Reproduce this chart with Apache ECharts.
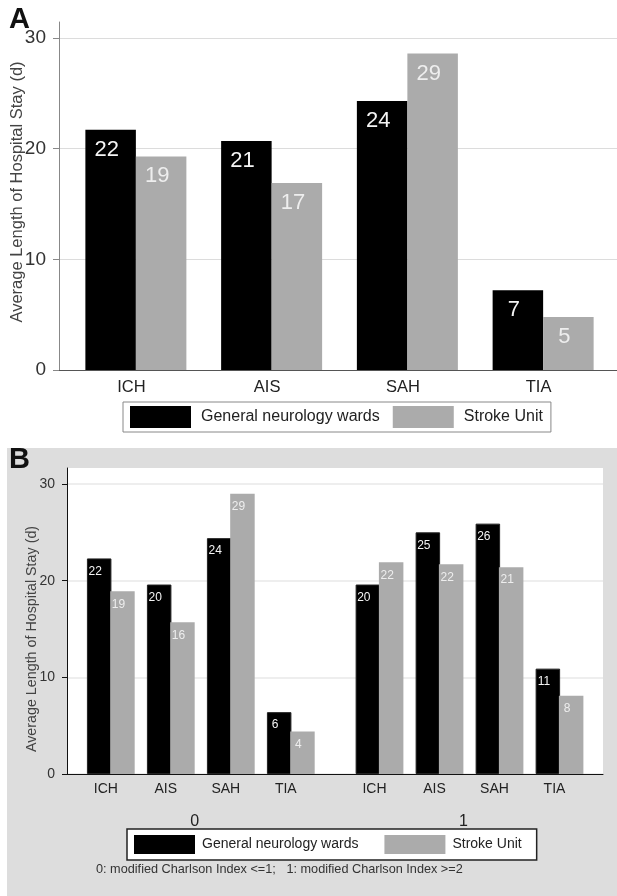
<!DOCTYPE html>
<html><head><meta charset="utf-8">
<script src="https://cdn.jsdelivr.net/npm/echarts@6/dist/echarts.min.js"></script>
<style>html,body{margin:0;padding:0;background:#fff}#c{width:617px;height:896px}</style>
</head><body><div id="c"></div>
<script>
// ---- data ----
const categories = ['ICH', 'AIS', 'SAH', 'TIA'];
const seriesNames = ['General neurology wards', 'Stroke Unit'];
// Panel A
const wardsA  = [21.7, 20.7, 24.3, 7.2];
const strokeA = [19.3, 16.9, 28.6, 4.8];
// Panel B, group 0 (Charlson <=1) and group 1 (Charlson >=2)
const groupsB   = ['0', '1'];
const wardsB0   = [22.3, 19.6, 24.4, 6.4];
const strokeB0  = [18.9, 15.7, 29.0, 4.4];
const wardsB1   = [19.6, 25.0, 25.9, 10.9];
const strokeB1  = [21.9, 21.7, 21.4, 8.1];
const yMin = 0, yMax = 30, yStep = 10;
const axisTitle = 'Average Length of Hospital Stay (d)';
const footnote = '0: modified Charlson Index <=1;   1: modified Charlson Index >=2';

const FONT = '"Liberation Sans", Arial, sans-serif';
const BLACK = '#000000', GREY = '#ababab';
const chart = echarts.init(document.getElementById('c'), null, {renderer: 'canvas'});

const hiddenX = (g) => ({gridIndex: g, type: 'value', show: false});
const hiddenY = (g) => ({gridIndex: g, type: 'value', min: yMin, max: yMax, show: false});
const rnd = p => String(Math.round(p.value));

function barSeries(name, data, xi, color, w, gap, fs, dist, labelColor, border) {
  return {
    type: 'bar', name: name, data: data, xAxisIndex: xi, yAxisIndex: xi,
    barWidth: w, barGap: gap,
    itemStyle: border ? {color: color, borderColor: '#222', borderWidth: 1} : {color: color},
    label: {show: true, position: 'insideTop', distance: dist, offset: [-4, 0],
      fontSize: fs, color: labelColor, fontFamily: FONT, formatter: rnd},
    emphasis: {disabled: true}, animation: false
  };
}

const option = {
  animation: false,
  textStyle: {fontFamily: FONT},
  graphic: [
    {type: 'rect', z: -10, shape: {x: 7, y: 448, width: 610, height: 448}, style: {fill: '#dddddd'}},
    {type: 'rect', z: -9, shape: {x: 67, y: 468, width: 536, height: 306}, style: {fill: '#ffffff'}}
  ],
  title: [
    {text: 'A', left: 9, top: 5, padding: 0, textStyle: {fontSize: 29, fontWeight: 'bold', color: '#111', fontFamily: FONT}},
    {text: 'B', left: 9, top: 445, padding: 0, textStyle: {fontSize: 29, fontWeight: 'bold', color: '#111', fontFamily: FONT}},
    {text: footnote, left: 96, top: 863, padding: 0, textStyle: {fontSize: 12.7, fontWeight: 'normal', color: '#333', fontFamily: FONT}}
  ],
  legend: [
    {data: seriesNames, left: 123, top: 402, orient: 'horizontal', icon: 'rect', selectedMode: false,
     itemWidth: 61, itemHeight: 22, itemGap: 13, padding: [4, 8, 4, 7],
     borderColor: '#888', borderWidth: 1, backgroundColor: '#fff',
     textStyle: {fontSize: 16, color: '#222', fontFamily: FONT, padding: [0, 0, 0, 5]}},
    {data: seriesNames, left: 127, top: 829, orient: 'horizontal', icon: 'rect', selectedMode: false,
     itemWidth: 61, itemHeight: 19, itemGap: 26, padding: [6, 15, 6, 7],
     borderColor: '#222', borderWidth: 1.5, backgroundColor: '#fff',
     textStyle: {fontSize: 14, color: '#222', fontFamily: FONT, padding: [0, 0, 0, 2]}}
  ],
  grid: [
    {left: 59, top: 22, width: 552, height: 348},      // 0 A axis line
    {left: 59, top: 38, width: 558, height: 332},      // 1 A frame
    {left: 68, top: 38, width: 543, height: 332},      // 2 A data
    {left: 67, top: 468, width: 536, height: 306},     // 3 B axis line
    {left: 67, top: 484, width: 536, height: 290},     // 4 B frame
    {left: 80.8, top: 484, width: 240, height: 290},   // 5 B group 0
    {left: 349.5, top: 484, width: 240, height: 290}   // 6 B group 1
  ],
  xAxis: [
    hiddenX(0),
    {gridIndex: 1, type: 'category', data: [''], axisLine: {show: true, lineStyle: {color: '#555', width: 1}},
     axisTick: {show: false}, axisLabel: {show: false}, splitLine: {show: false}},
    {gridIndex: 2, type: 'category', data: categories, axisLine: {show: false}, axisTick: {show: false},
     axisLabel: {fontSize: 16.5, color: '#222', margin: 9, padding: [0, 9, 0, 0], fontFamily: FONT}},
    hiddenX(3),
    {gridIndex: 4, type: 'category', data: [''], axisLine: {show: true, lineStyle: {color: '#111', width: 1}},
     axisTick: {show: false}, axisLabel: {show: false}, splitLine: {show: false}},
    {gridIndex: 5, type: 'category', data: categories, axisLine: {show: false}, axisTick: {show: false},
     axisLabel: {fontSize: 14, color: '#222', margin: 8, padding: [0, 10, 0, 0], fontFamily: FONT},
     name: groupsB[0], nameLocation: 'middle', nameGap: 40,
     nameTextStyle: {fontSize: 16, color: '#222', padding: [0, 12, 0, 0], fontFamily: FONT}},
    {gridIndex: 6, type: 'category', data: categories, axisLine: {show: false}, axisTick: {show: false},
     axisLabel: {fontSize: 14, color: '#222', margin: 8, padding: [0, 10, 0, 0], fontFamily: FONT},
     name: groupsB[1], nameLocation: 'middle', nameGap: 40,
     nameTextStyle: {fontSize: 16, color: '#222', padding: [0, 12, 0, 0], fontFamily: FONT}}
  ],
  yAxis: [
    {gridIndex: 0, type: 'value', min: 0, max: 1, axisLine: {show: true, lineStyle: {color: '#888'}},
     axisTick: {show: false}, axisLabel: {show: false}, splitLine: {show: false},
     name: axisTitle, nameLocation: 'middle', nameGap: 33,
     nameTextStyle: {fontSize: 16.5, color: '#444', fontFamily: FONT, padding: [0, 0, 0, 8]}},
    {gridIndex: 1, type: 'value', min: yMin, max: yMax, interval: yStep,
     axisLine: {show: false}, axisTick: {show: true, length: 6, lineStyle: {color: '#888'}},
     axisLabel: {fontSize: 19, color: '#333', margin: 13, fontFamily: FONT},
     splitLine: {show: true, lineStyle: {color: '#dcdcdc', width: 1}}},
    hiddenY(2),
    {gridIndex: 3, type: 'value', min: 0, max: 1, axisLine: {show: true, lineStyle: {color: '#111'}},
     axisTick: {show: false}, axisLabel: {show: false}, splitLine: {show: false},
     name: axisTitle, nameLocation: 'middle', nameGap: 28,
     nameTextStyle: {fontSize: 14.3, color: '#444', fontFamily: FONT, padding: [0, 36, 0, 0]}},
    {gridIndex: 4, type: 'value', min: yMin, max: yMax, interval: yStep,
     axisLine: {show: false}, axisTick: {show: true, length: 5, lineStyle: {color: '#111'}},
     axisLabel: {fontSize: 14, color: '#333', margin: 12, fontFamily: FONT},
     splitLine: {show: true, lineStyle: {color: '#e8e8e8', width: 1.5}}},
    hiddenY(5),
    hiddenY(6)
  ],
  series: [
    barSeries(seriesNames[0], wardsA, 2, BLACK, 50.5, '0%', 22, 9, '#f4f4f4', false),
    barSeries(seriesNames[1], strokeA, 2, GREY, 50.5, '0%', 22, 9, '#eeeeee', false),
    barSeries(seriesNames[0], wardsB0, 5, BLACK, 24.5, '-5%', 12, 7, '#f4f4f4', true),
    barSeries(seriesNames[1], strokeB0, 5, GREY, 24.5, '-5%', 12, 7, '#eeeeee', false),
    barSeries(seriesNames[0], wardsB1, 6, BLACK, 24.5, '-5%', 12, 7, '#f4f4f4', true),
    barSeries(seriesNames[1], strokeB1, 6, GREY, 24.5, '-5%', 12, 7, '#eeeeee', false)
  ]
};
chart.setOption(option);
</script>
</body></html>
